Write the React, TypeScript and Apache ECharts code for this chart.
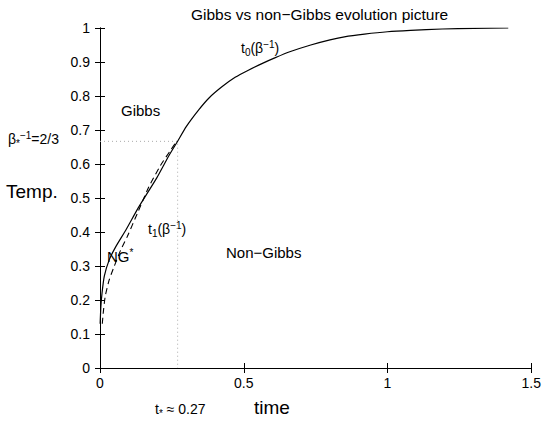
import React, { useEffect, useRef } from "react";
import * as echarts from "echarts";

// ---- data ----
const t0Time = [0.0005, 0.003, 0.007, 0.015, 0.032, 0.055, 0.09, 0.135, 0.198, 0.24, 0.27, 0.3, 0.344, 0.38, 0.424, 0.47, 0.516, 0.565, 0.608, 0.66, 0.733, 0.8, 0.85, 0.92, 1.0, 1.08, 1.19, 1.3, 1.42];
const t0Temp = [0.13, 0.18, 0.22, 0.27, 0.318, 0.357, 0.406, 0.474, 0.56, 0.625, 0.667, 0.71, 0.76, 0.795, 0.827, 0.855, 0.876, 0.896, 0.912, 0.93, 0.95, 0.965, 0.974, 0.982, 0.989, 0.993, 0.997, 0.999, 1.0];
const t1Time = [0.008, 0.011, 0.018, 0.032, 0.049, 0.072, 0.095, 0.13, 0.17, 0.21, 0.245, 0.265];
const t1Temp = [0.13, 0.16, 0.21, 0.259, 0.298, 0.347, 0.387, 0.455, 0.533, 0.595, 0.64, 0.665];
const tStar = 0.27;
const betaStar = 2 / 3;
const xTicks = [0, 0.5, 1, 1.5];
const yTicks = [0, 0.1, 0.2, 0.3, 0.4, 0.5, 0.6, 0.7, 0.8, 0.9, 1];

const FONT = "'Liberation Sans', Arial, Helvetica, sans-serif";

const RICH: any = {
  m: { fontSize: 14, fontFamily: FONT, fill: "#000", lineHeight: 18 },
  b: { fontSize: 15, fontFamily: FONT, fill: "#000", lineHeight: 18 },
  sb: { fontSize: 10, fontFamily: FONT, fill: "#000", lineHeight: 10, verticalAlign: "bottom" },
  sp: { fontSize: 10, fontFamily: FONT, fill: "#000", lineHeight: 10, verticalAlign: "top" },
};

function txt(x: number, y: number, text: string, size = 14) {
  return {
    type: "text",
    x,
    y,
    silent: true,
    style: {
      text,
      rich: RICH,
      fill: "#000",
      fontSize: size,
      fontFamily: FONT,
      align: "left",
      verticalAlign: "middle",
    },
  };
}

export default function App() {
  const ref = useRef<HTMLDivElement>(null);
  useEffect(() => {
    if (!ref.current) return;
    const chart = echarts.init(ref.current, undefined, { renderer: "svg" });
    const fmt = (v: number) => String(parseFloat(v.toFixed(1)));
    const axisCommon = {
      axisLine: { show: true, lineStyle: { color: "#000", width: 1 } },
      axisTick: { show: true, inside: true, length: 5, lineStyle: { color: "#000" } },
      splitLine: { show: false },
    };
    chart.setOption({
      animation: false,
      backgroundColor: "#fff",
      title: {
        text: "Gibbs vs non\u2212Gibbs evolution picture",
        left: 186,
        top: 1,
        textStyle: { fontSize: 15.5, fontWeight: "normal", color: "#000", fontFamily: FONT },
      },
      grid: { left: 100, right: 9, top: 28, bottom: 53 },
      xAxis: [
        {
          type: "value",
          min: xTicks[0],
          max: xTicks[xTicks.length - 1],
          interval: 0.5,
          ...axisCommon,
          axisLabel: { color: "#000", fontSize: 14, fontFamily: FONT, margin: 8, formatter: fmt },
        },
        {
          type: "value",
          position: "top",
          min: xTicks[0],
          max: xTicks[xTicks.length - 1],
          interval: 0.5,
          ...axisCommon,
          axisLabel: { show: false },
        },
      ],
      yAxis: [
        {
          type: "value",
          min: yTicks[0],
          max: yTicks[yTicks.length - 1],
          interval: 0.1,
          ...axisCommon,
          axisLabel: { color: "#000", fontSize: 14, fontFamily: FONT, margin: 10, formatter: fmt },
        },
        {
          type: "value",
          position: "right",
          min: yTicks[0],
          max: yTicks[yTicks.length - 1],
          interval: 0.1,
          ...axisCommon,
          axisLabel: { show: false },
        },
      ],
      series: [
        {
          type: "line",
          data: [[0, betaStar], [tStar, betaStar], [tStar, 0]],
          showSymbol: false,
          silent: true,
          lineStyle: { color: "#aaa", width: 1, type: [1, 3] },
        },
        {
          type: "line",
          data: t1Time.map((t, i) => [t, t1Temp[i]]),
          showSymbol: false,
          smooth: 0.2,
          lineStyle: { color: "#000", width: 1.1, type: [6, 4] },
        },
        {
          type: "line",
          data: t0Time.map((t, i) => [t, t0Temp[i]]),
          showSymbol: false,
          smooth: 0.2,
          lineStyle: { color: "#000", width: 1.2 },
        },
      ],
      graphic: [
        txt(241, 48, "{m|t}{sb|0}{m|(\u03b2}{sp|\u22121}{m|)}"),
        txt(121, 110, "{b|Gibbs}", 15),
        txt(8, 139, "{m|\u03b2}{sb|*}{sp|\u22121}{m|=2/3}"),
        txt(6, 191, "Temp.", 19),
        txt(148, 229, "{m|t}{sb|1}{m|(\u03b2}{sp|\u22121}{m|)}"),
        txt(107, 256, "{b|NG}{sp|*}", 15),
        txt(226, 252, "{b|Non\u2212Gibbs}", 15),
        txt(155, 409, "{m|t}{sb|*}{m| \u2248 0.27}"),
        txt(254, 407, "time", 19),
      ],
    });
    return () => chart.dispose();
  }, []);
  return (
    <div
      ref={ref}
      style={{ position: "fixed", left: 0, top: 0, width: 544, height: 421, background: "#fff" }}
    />
  );
}
